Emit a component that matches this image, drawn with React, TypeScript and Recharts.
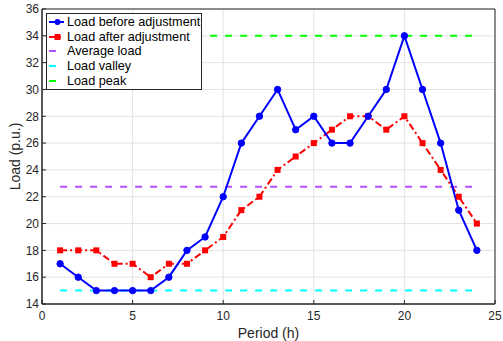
import React from 'react';
import {
  ComposedChart,
  Line,
  XAxis,
  YAxis,
  CartesianGrid,
  ReferenceLine,
  ReferenceArea,
} from 'recharts';

// Periodos (h)
const periods = [1, 2, 3, 4, 5, 6, 7, 8, 9, 10, 11, 12, 13, 14, 15, 16, 17, 18, 19, 20, 21, 22, 23, 24];
// Carga antes e depois do ajuste (p.u.)
const loadBefore = [17, 16, 15, 15, 15, 15, 16, 18, 19, 22, 26, 28, 30, 27, 28, 26, 26, 28, 30, 34, 30, 26, 21, 18];
const loadAfter = [18, 18, 18, 17, 17, 16, 17, 17, 18, 19, 21, 22, 24, 25, 26, 27, 28, 28, 27, 28, 26, 24, 22, 20];

const averageLoad = 22.75;
const loadValley = 15;
const loadPeak = 34;

const xTicks = [0, 5, 10, 15, 20, 25];
const yTicks = [14, 16, 18, 20, 22, 24, 26, 28, 30, 32, 34, 36];

const BLUE = '#0000ff';
const RED = '#ff0000';
const PURPLE = '#b450ff';
const CYAN = '#00ffff';
const GREEN = '#00ff00';
const AXIS = '#262626';
const FONT = '"Liberation Sans", Arial, Helvetica, sans-serif';

const data = periods.map((p, i) => ({
  period: p,
  before: loadBefore[i],
  after: loadAfter[i],
}));

const legendItems = [
  { label: 'Load before adjustment', color: BLUE, dash: undefined, marker: 'circle' },
  { label: 'Load after adjustment', color: RED, dash: '7 3 2 3', marker: 'square' },
  { label: 'Average load', color: PURPLE, dash: '7 8', marker: '' },
  { label: 'Load valley', color: CYAN, dash: '7 8', marker: '' },
  { label: 'Load peak', color: GREEN, dash: '7 8', marker: '' },
];

// Legenda desenhada por cima do grafico (canto superior esquerdo)
const ChartLegend = () => (
  <div
    style={{
      position: 'absolute',
      left: 46,
      top: 13,
      border: `1px solid ${AXIS}`,
      background: '#fff',
      width: 156,
      height: 77,
      padding: '1px 0 0 0',
      fontFamily: FONT,
      fontSize: 12.7,
      color: '#000',
      boxSizing: 'border-box',
    }}
  >
    {legendItems.map((it) => (
      <div key={it.label} style={{ display: 'flex', alignItems: 'center', height: 14.6 }}>
        <svg width={19} height={10} style={{ marginLeft: 1 }}>
          <line x1={1} y1={5} x2={16} y2={5} stroke={it.color} strokeWidth={2} strokeDasharray={it.dash} />
          {it.marker === 'circle' && <circle cx={9.5} cy={5} r={3} fill={it.color} />}
          {it.marker === 'square' && <rect x={6.5} y={2} width={6} height={6} fill={it.color} />}
        </svg>
        <span style={{ whiteSpace: 'nowrap', lineHeight: '14px' }}>{it.label}</span>
      </div>
    ))}
  </div>
);

const SquareDot = (props: any) => {
  const { cx, cy, index } = props;
  if (cx == null || cy == null) return null;
  return <rect key={`sq-${index}`} x={cx - 3} y={cy - 3} width={6} height={6} fill={RED} />;
};

const noLabel = () => '';

export default function App() {
  return (
    <div style={{ position: 'absolute', left: 0, top: 0, width: 503, height: 341, background: '#fff' }}>
      <ComposedChart
        width={503}
        height={341}
        data={data}
        margin={{ top: 9, right: 8, bottom: 0, left: 0 }}
        style={{ fontFamily: FONT }}
      >
        <CartesianGrid stroke="#e3e3e3" strokeWidth={1} />
        <XAxis
          type="number"
          dataKey="period"
          domain={[0, 25]}
          ticks={xTicks}
          interval={0}
          height={37}
          tickSize={-4}
          tickMargin={11}
          tickLine={{ stroke: AXIS }}
          axisLine={{ stroke: AXIS }}
          tick={{ fontSize: 12, fill: AXIS }}
          label={{ value: 'Period (h)', position: 'insideBottom', offset: 3, fontSize: 14, fill: AXIS }}
        />
        <XAxis
          xAxisId="top"
          orientation="top"
          type="number"
          dataKey="period"
          domain={[0, 25]}
          ticks={xTicks}
          interval={0}
          height={0}
          tickSize={-4}
          tickFormatter={noLabel}
          tickLine={{ stroke: AXIS }}
          axisLine={{ stroke: AXIS }}
        />
        <YAxis
          type="number"
          domain={[14, 36]}
          ticks={yTicks}
          interval={0}
          width={42}
          tickSize={-4}
          tickMargin={7}
          tickLine={{ stroke: AXIS }}
          axisLine={{ stroke: AXIS }}
          tick={{ fontSize: 12, fill: AXIS }}
          label={{
            value: 'Load (p.u.)',
            angle: -90,
            position: 'insideLeft',
            offset: 15,
            fontSize: 14,
            fill: AXIS,
            style: { textAnchor: 'middle' },
          }}
        />
        <YAxis
          yAxisId="right"
          orientation="right"
          type="number"
          domain={[14, 36]}
          ticks={yTicks}
          interval={0}
          width={0}
          tickSize={-4}
          tickFormatter={noLabel}
          tickLine={{ stroke: AXIS }}
          axisLine={{ stroke: AXIS }}
        />
        <ReferenceArea x1={0} x2={25} y1={14} y2={36} fill="none" stroke={AXIS} strokeWidth={1} fillOpacity={0} />
        <ReferenceLine
          segment={[{ x: 1, y: averageLoad }, { x: 24, y: averageLoad }]}
          stroke={PURPLE}
          strokeWidth={2}
          strokeDasharray="7 8"
        />
        <ReferenceLine
          segment={[{ x: 1, y: loadValley }, { x: 24, y: loadValley }]}
          stroke={CYAN}
          strokeWidth={2}
          strokeDasharray="7 8"
        />
        <ReferenceLine
          segment={[{ x: 1, y: loadPeak }, { x: 24, y: loadPeak }]}
          stroke={GREEN}
          strokeWidth={2}
          strokeDasharray="7 8"
        />
        <Line
          type="linear"
          dataKey="after"
          stroke={RED}
          strokeWidth={2}
          strokeDasharray="7 3 2 3"
          dot={SquareDot}
          activeDot={false}
          isAnimationActive={false}
        />
        <Line
          type="linear"
          dataKey="before"
          stroke={BLUE}
          strokeWidth={2}
          dot={{ r: 3.2, fill: BLUE, stroke: BLUE, strokeWidth: 1 }}
          activeDot={false}
          isAnimationActive={false}
        />
      </ComposedChart>
      <ChartLegend />
    </div>
  );
}
